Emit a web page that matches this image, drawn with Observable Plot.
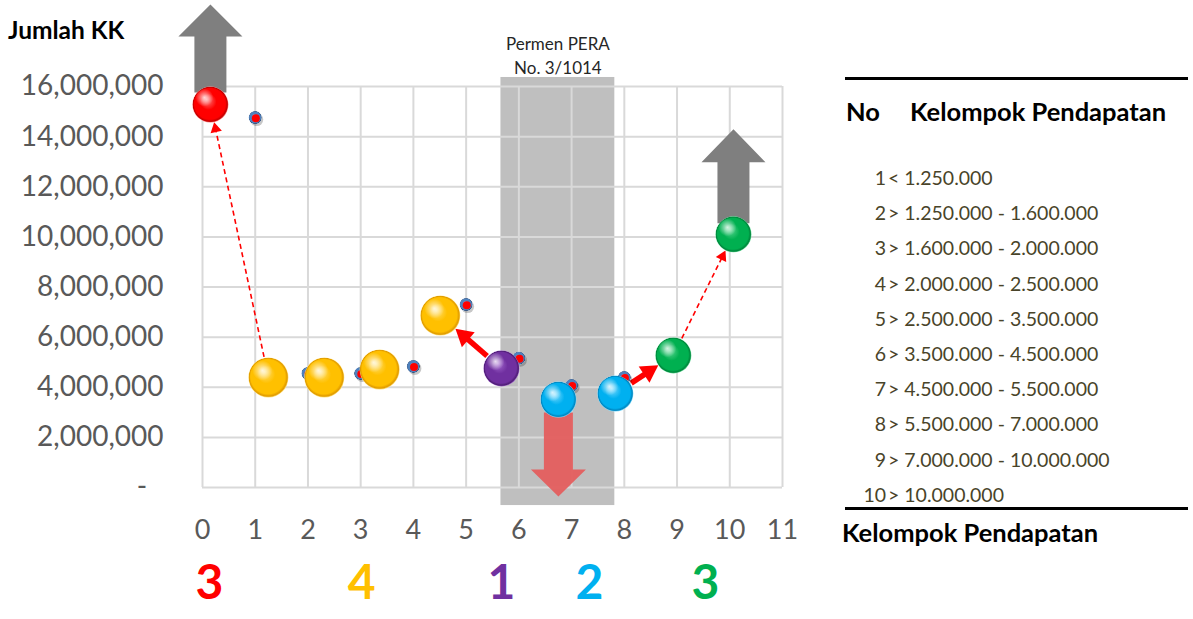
<!DOCTYPE html>
<html>
<head>
<meta charset="utf-8">
<script src="https://cdn.jsdelivr.net/npm/d3@7"></script>
<script src="https://cdn.jsdelivr.net/npm/@observablehq/plot@0.6"></script>
<style>
  html, body { margin: 0; padding: 0; background: #fff; }
  #wrap { position: relative; width: 1193px; height: 619px; overflow: hidden; font-family: Lato, "Open Sans", sans-serif; }
  #chart { position: absolute; left: 0; top: 0; }
  #ytitle { position: absolute; left: 8px; top: 15px; font-weight: bold; font-size: 24.5px; line-height: 1.2; color: #000; white-space: nowrap; }
  .rule { position: absolute; left: 845px; width: 343px; height: 3px; background: #000; }
  .hd { position: absolute; font-weight: bold; font-size: 25.5px; line-height: 1.2; color: #000; white-space: nowrap; }
  #items { position: absolute; left: 843px; top: 160px; font-size: 19.5px; color: #494429; }
  .row { height: 35.2px; line-height: 35.2px; white-space: nowrap; }
  .num { display: inline-block; width: 43px; text-align: right; }
  .rng { margin-left: 2px; }
</style>
</head>
<body>
<div id="wrap">
  <div id="chart"></div>
  <div id="ytitle"></div>
  <div class="rule" style="top:77px"></div>
  <div class="hd" id="hdNo" style="left:846px; top:96px"></div>
  <div class="hd" id="hdKel" style="left:910px; top:96px"></div>
  <div id="items"></div>
  <div class="rule" style="top:507px"></div>
  <div class="hd" id="foot" style="left:842px; top:517px"></div>
</div>
<script>
// ---------------- DATA ----------------
const yTitle = "Jumlah KK";
const xTicks = [0, 1, 2, 3, 4, 5, 6, 7, 8, 9, 10, 11];
const yTicks = [0, 2000000, 4000000, 6000000, 8000000, 10000000, 12000000, 14000000, 16000000];
const xDomain = [0, 11];
const yDomain = [0, 16000000];

// large balls (income-group positions)
const bubbleX = [0.15, 1.25, 2.31, 3.36, 4.51, 5.67, 6.75, 7.83, 8.93, 10.07];
const bubbleY = [15280000, 4390000, 4390000, 4710000, 6860000, 4750000, 3510000, 3750000, 5270000, 10100000];
const bubbleGroup = ["red", "gold", "gold", "gold", "gold", "purple", "blue", "blue", "green", "green"];

// small original points
const dotX = [1, 2, 3, 4, 5, 6, 7, 8];
const dotY = [14760000, 4550000, 4550000, 4830000, 7300000, 5160000, 4070000, 4390000];

// regulation band
const bandX = [5.66, 7.82];
const bandY = [-720000, 16360000];
const bandLabel = "Permen PERA\nNo. 3/1014";

// group labels under axis
const groupLabels = ["3", "4", "1", "2", "3"];
const groupLabelX = [0.13, 3.02, 5.67, 7.34, 9.54];
const groupLabelColor = ["red", "gold", "purple", "blue", "green"];

// arrows between balls (from index, to index)
const dashedArrows = [[1, 0], [8, 9]];
const solidArrows = [[5, 4], [7, 8]];
// block arrows anchored at balls
const upArrowsAt = [0, 9];
const downArrowsAt = [6];

// legend
const legendHeader = ["No", "Kelompok Pendapatan"];
const legendNo = [1, 2, 3, 4, 5, 6, 7, 8, 9, 10];
const legendRange = ["< 1.250.000", "> 1.250.000 - 1.600.000", "> 1.600.000 - 2.000.000", "> 2.000.000 - 2.500.000",
  "> 2.500.000 - 3.500.000", "> 3.500.000 - 4.500.000", "> 4.500.000 - 5.500.000", "> 5.500.000 - 7.000.000",
  "> 7.000.000 - 10.000.000", "> 10.000.000"];
const xTitle = "Kelompok Pendapatan";

// ---------------- STYLE ----------------
const palette = {
  red:    {light: "#ff8080", base: "#ff0000", dark: "#c00000", text: "#ff0000"},
  gold:   {light: "#ffe27a", base: "#ffc000", dark: "#e09a00", text: "#ffc000"},
  purple: {light: "#a56ad0", base: "#7030a0", dark: "#4e1d74", text: "#7030a0"},
  blue:   {light: "#7fdcff", base: "#00b0f0", dark: "#0085bf", text: "#00b0f0"},
  green:  {light: "#5fd894", base: "#00b050", dark: "#00853b", text: "#00b050"},
  steel:  {light: "#9dbbe3", base: "#4f81bd", dark: "#2c4d7a"}
};
const L = {width: 830, height: 619, left: 202, right: 48, top: 86, bottom: 132};

// ---------------- BUILD ----------------
const xs = Plot.scale({x: {domain: xDomain, range: [L.left, L.width - L.right]}});
const ys = Plot.scale({y: {domain: yDomain, range: [L.height - L.bottom, L.top]}});

const bubbles = bubbleX.map((x, i) => ({x, y: bubbleY[i], g: bubbleGroup[i], r: bubbleGroup[i] === "gold" ? 20 : 18}));
const dots = dotX.map((x, i) => ({x, y: dotY[i]}));
const band = [{x1: bandX[0], x2: bandX[1], y1: bandY[0], y2: bandY[1], label: bandLabel}];
const groups = groupLabels.map((t, i) => ({t, x: groupLabelX[i], c: palette[groupLabelColor[i]].text}));

function linkGeom(pair, headLen) {
  const a = bubbles[pair[0]], b = bubbles[pair[1]];
  const ax = xs.apply(a.x), ay = ys.apply(a.y), bx = xs.apply(b.x), by = ys.apply(b.y);
  const dx = bx - ax, dy = by - ay, len = Math.hypot(dx, dy), ux = dx / len, uy = dy / len;
  const tx = bx - ux * b.r, ty = by - uy * b.r;
  const hx = tx - ux * headLen * 2 / 3, hy = ty - uy * headLen * 2 / 3;
  return {x1: a.x, y1: a.y, x2: b.x, y2: b.y, rs: a.r, re: b.r,
          hx: xs.invert(hx), hy: ys.invert(hy), rot: Math.atan2(dx, -dy) * 180 / Math.PI};
}

function arrowMarks(pairs, headLen, sw, dash) {
  const geoms = pairs.map(p => linkGeom(p, headLen));
  const marks = geoms.map(g => Plot.arrow([g], {
    x1: "x1", y1: "y1", x2: "x2", y2: "y2", insetStart: g.rs + 1, insetEnd: g.re + headLen * 0.7,
    headLength: 0, stroke: "#ff0000", strokeWidth: sw, strokeDasharray: dash, strokeLinecap: "butt"
  }));
  marks.push(Plot.dot(geoms, {x: "hx", y: "hy", rotate: "rot", symbol: "triangle", r: headLen / 2.333, fill: "#ff0000", stroke: "none"}));
  return marks;
}

function blockArrow(i, dir, s) {
  const b = bubbles[i];
  const cx = xs.apply(b.x), cy = ys.apply(b.y);
  const pts = [[-s.w, s.start], [-s.w, s.base], [-s.hw, s.base], [0, s.tip], [s.hw, s.base], [s.w, s.base], [s.w, s.start], [-s.w, s.start]];
  return pts.map(([px, py]) => ({x: xs.invert(cx + px), y: ys.invert(cy + dir * py)}));
}
const upSpec = [{w: 16, hw: 32, start: 12, base: 68, tip: 100}, {w: 16, hw: 32, start: 11, base: 72, tip: 105}];
const downSpec = [{w: 14.5, hw: 27.5, start: 13, base: 70, tip: 97}];

const blockMarks = [
  ...upArrowsAt.map((i, k) => Plot.line(blockArrow(i, -1, upSpec[k]), {x: "x", y: "y", fill: "#7f7f7f", stroke: "none"})),
  ...downArrowsAt.map((i, k) => Plot.line(blockArrow(i, 1, downSpec[k]), {x: "x", y: "y", fill: "#e45e5e", stroke: "none", fillOpacity: 0.95}))
];

const svg = Plot.plot({
  width: L.width, height: L.height,
  marginLeft: L.left, marginRight: L.right, marginTop: L.top, marginBottom: L.bottom,
  x: {domain: xDomain},
  y: {domain: yDomain},
  r: {type: "identity"},
  color: {type: "identity"},
  style: {fontFamily: "Lato, 'Open Sans', sans-serif", color: "#595959", background: "transparent", overflow: "visible"},
  marks: [
    Plot.rect(band, {x1: "x1", x2: "x2", y1: "y1", y2: "y2", fill: "#bfbfbf"}),
    Plot.gridX({ticks: xTicks, stroke: "#d9d9d9", strokeOpacity: 1, strokeWidth: 2}),
    Plot.gridY({ticks: yTicks, stroke: "#d9d9d9", strokeOpacity: 1, strokeWidth: 2}),
    Plot.text(band, {x: d => (d.x1 + d.x2) / 2, y: "y2", text: "label", lineAnchor: "bottom", dy: -3,
      fontSize: 17, lineHeight: 1.42, fill: "#262626"}),
    ...blockMarks,
    ...arrowMarks(dashedArrows, 10, 1.6, "5,3.5"),
    ...arrowMarks(solidArrows, 17, 5.5, null),
    // small points
    Plot.dot(dots, {x: "x", y: "y", r: 6.5, fill: "#000", fillOpacity: 0.22, dx: 1.5, dy: 2}),
    Plot.dot(dots, {x: "x", y: "y", r: 6.5, fill: "url(#ball-steel)"}),
    Plot.dot(dots, {x: "x", y: "y", r: 4, fill: "#ff0000", dx: 0.6, dy: 0.6}),
    // big balls
    Plot.dot(bubbles, {x: "x", y: "y", r: "r", fill: d => `url(#ball-${d.g})`}),
    Plot.dot(bubbles, {x: "x", y: "y", r: d => d.r * 0.5, fill: "url(#hl)", dx: -6, dy: -7}),
    // axes
    Plot.axisY({ticks: yTicks, tickSize: 0, tickPadding: 39, fontSize: 28, label: null,
      tickFormat: v => v === 0 ? "-\u2007" : d3.format(",")(v)}),
    Plot.axisX({ticks: xTicks, tickSize: 0, tickPadding: 32, fontSize: 27, label: null}),
    // group labels under axis
    Plot.text(groups, {x: "x", y: () => 0, text: "t", fill: "c", fontSize: 48, fontWeight: "bold", dy: 96})
  ]
});

// gradients
const defs = d3.select(svg).insert("defs", ":first-child");
for (const [name, c] of Object.entries(palette)) {
  const g = defs.append("radialGradient").attr("id", `ball-${name}`)
    .attr("cx", "0.5").attr("cy", "0.5").attr("r", "0.5").attr("fx", "0.4").attr("fy", "0.36");
  g.append("stop").attr("offset", "0").attr("stop-color", c.light);
  g.append("stop").attr("offset", "0.45").attr("stop-color", c.base);
  g.append("stop").attr("offset", "0.86").attr("stop-color", c.base);
  g.append("stop").attr("offset", "0.95").attr("stop-color", c.dark);
  g.append("stop").attr("offset", "1").attr("stop-color", c.light);
}
const hl = defs.append("radialGradient").attr("id", "hl");
hl.append("stop").attr("offset", "0").attr("stop-color", "#fff").attr("stop-opacity", 0.8);
hl.append("stop").attr("offset", "1").attr("stop-color", "#fff").attr("stop-opacity", 0);

document.getElementById("chart").appendChild(svg);

// texts & legend
document.getElementById("ytitle").textContent = yTitle;
document.getElementById("hdNo").textContent = legendHeader[0];
document.getElementById("hdKel").textContent = legendHeader[1];
document.getElementById("foot").textContent = xTitle;
const items = document.getElementById("items");
legendNo.forEach((n, i) => {
  const row = document.createElement("div");
  row.className = "row";
  const a = document.createElement("span"); a.className = "num"; a.textContent = n;
  const b = document.createElement("span"); b.className = "rng"; b.textContent = legendRange[i];
  row.appendChild(a); row.appendChild(b);
  items.appendChild(row);
});
</script>
</body>
</html>
